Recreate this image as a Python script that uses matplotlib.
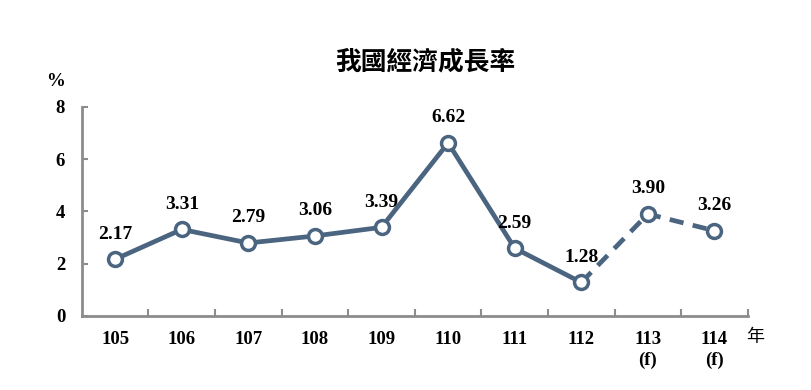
import numpy as np
import matplotlib.pyplot as plt

plt.rcParams['font.family'] = ['Liberation Serif', 'Noto Sans CJK TC']

years = ['105', '106', '107', '108', '109', '110', '111', '112', '113\n(f)', '114\n(f)']
growth = [2.17, 3.31, 2.79, 3.06, 3.39, 6.62, 2.59, 1.28, 3.90, 3.26]
n_actual = 8  # 105-112 實際值, 之後為預測

line_color = '#4b6580'
spine_color = '#8c8c8c'

fig = plt.figure(figsize=(8.11, 3.90), dpi=100)
ax = fig.add_axes([0.101, 0.190, 0.821, 0.536])

x = np.arange(len(growth))
ax.plot(x[:n_actual], growth[:n_actual], color=line_color, lw=3.4, zorder=2)
ax.plot(x[n_actual - 1:], growth[n_actual - 1:], color=line_color, lw=3.4,
        ls=(0, (3, 2)), zorder=2)
ax.plot(x, growth, ls='none', marker='o', ms=10, mfc='white', mec=line_color,
        mew=2.5, zorder=3)

for xi, v in zip(x, growth):
    ax.annotate(f'{v:.2f}', (xi, v), xytext=(0, 12), textcoords='offset points',
                ha='center', va='bottom', fontsize=14, fontweight='bold')

ax.set_xlim(-0.5, len(growth) - 0.5)
ax.set_ylim(0, 8)
ax.set_yticks([0, 2, 4, 6, 8])
ax.set_xticks(x)
ax.set_xticklabels(years, fontsize=13.5, fontweight='bold', linespacing=1.25, va='top')
ax.set_xticks(np.arange(0.5, len(growth) - 0.5 + 1, 1), minor=True)
ax.tick_params(axis='x', which='major', length=0, pad=11)
ax.tick_params(axis='x', which='minor', direction='in', length=5, width=1.5, color=spine_color)
ax.tick_params(axis='y', direction='in', length=4, width=1.5, color=spine_color,
               labelsize=13.5, pad=12)
for lab in ax.get_yticklabels():
    lab.set_fontweight('bold')

for s in ['top', 'right']:
    ax.spines[s].set_visible(False)
for s in ['left', 'bottom']:
    ax.spines[s].set_color(spine_color)
    ax.spines[s].set_linewidth(2)

fig.text(0.524, 0.84, '我國經濟成長率', ha='center', va='center', fontsize=18.5,
         fontweight='bold', family=['Noto Sans CJK TC'])
fig.text(0.068, 0.79, '%', ha='center', va='center', fontsize=13.5, fontweight='bold')
fig.text(0.920, 0.137, '年', ha='left', va='center', fontsize=13,
         family=['Noto Sans CJK TC'])

fig.savefig('out.png', dpi=100)
